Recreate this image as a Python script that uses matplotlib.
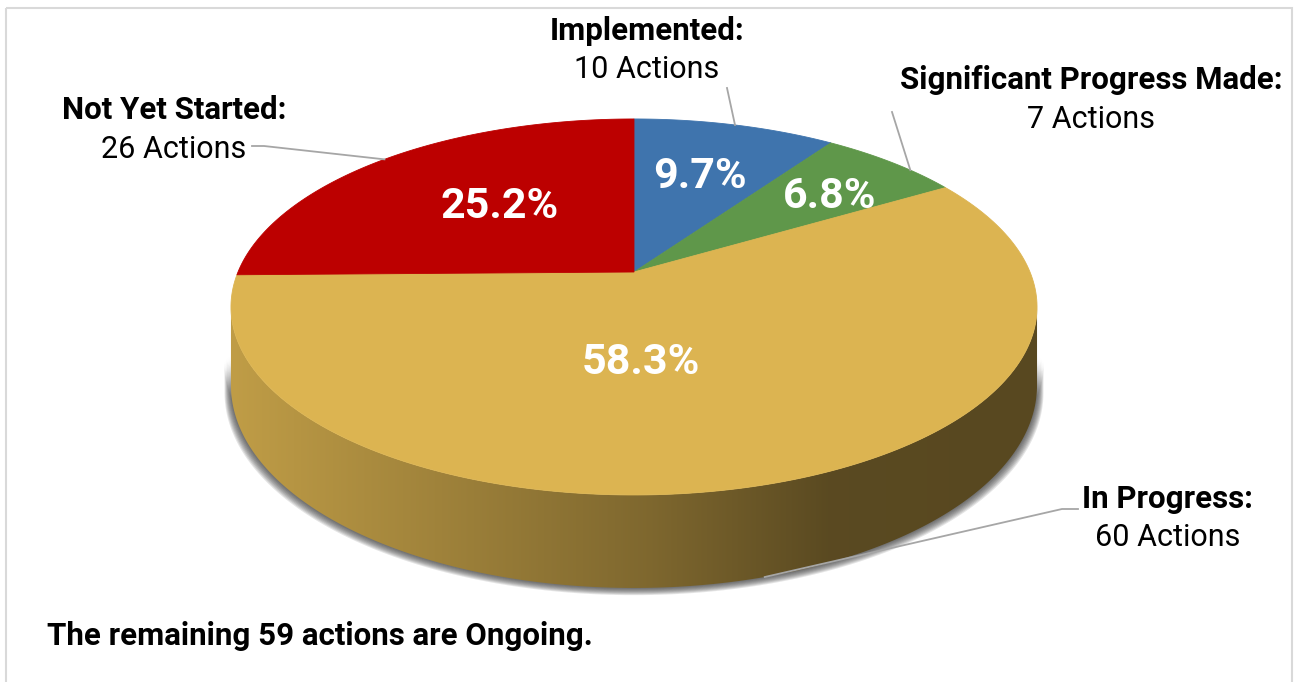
import numpy as np
import matplotlib
matplotlib.use("Agg")
import matplotlib.pyplot as plt
from matplotlib.patches import Polygon, Rectangle

# --- data ---
categories = ["Implemented", "Significant Progress Made", "In Progress", "Not Yet Started"]
actions = [10, 7, 60, 26]
colors = ["#3F74AD", "#5F974A", "#DCB451", "#BC0000"]
note = "The remaining 59 actions are Ongoing."

# --- layout (pixel coords) ---
CX, CY = 634, 272          # where the slices meet
R, B = 396, 181.5          # horizontal radius / vertical scale
C = 0.186                  # perspective strength
T0 = 75.7                  # wall thickness
name_pos = [(647, 31), (1091, 80), (1168, 499), (174, 110)]
pct_pos = [(700, 177), (830, 197), (641, 362), (500, 207)]
leader_start = [[(727, 88)], [(892, 112)], [(1078, 509), (1062, 509)], [(252, 146), (264, 146)]]

plt.rcParams['font.family'] = ['Roboto', 'DejaVu Sans']


def proj(theta, r=1.0, drop=0.0):
    th = np.radians(theta)
    u = r * np.sin(th)
    v = -r * np.cos(th)
    d = 1 - C * v
    return CX + R * u / d, CY + B * v / d + drop / d


fig = plt.figure(figsize=(12.99, 6.82), dpi=100)
ax = fig.add_axes([0, 0, 1, 1])
ax.set_xlim(0, 1299)
ax.set_ylim(682, 0)
ax.axis('off')

ax.add_patch(Rectangle((6, 8), 1286, 700, fill=False, edgecolor="#D9D9D9", lw=1.5))

total = sum(actions)
fracs = np.array(actions) / total
bounds = np.concatenate([[0], np.cumsum(fracs) * 360])

# visible part of the side wall
th_r = np.degrees(np.arccos(-C))
th_l = 360 - th_r

# soft shadow round the wall: faint, slightly grown copies of its outline
ts = np.linspace(th_r, th_l, 240)
bx, by = proj(ts, drop=T0)
tx, ty = proj(ts[::-1], drop=45)
sx = np.concatenate([bx, tx])
sy = np.concatenate([by, ty])
for k in range(1, 9):
    gx_ = CX + (sx - CX) * (1 + k / 500)
    ax.add_patch(Polygon(np.column_stack([gx_, sy + 0.9 * k]), closed=True,
                         facecolor=(0.2, 0.2, 0.2, 0.13), edgecolor='none', zorder=1))

# side wall with left-to-right shading
gx = np.linspace(220, 1050, 400)
shade = np.interp(gx, [233, 650, 830, 1050], [0.87, 0.575, 0.41, 0.40])
for i in range(len(actions)):
    a0, a1 = max(bounds[i], th_r), min(bounds[i + 1], th_l)
    if a1 <= a0:
        continue
    t = np.linspace(a0, a1, 200)
    x1, y1 = proj(t)
    x2, y2 = proj(t[::-1], drop=T0)
    poly = Polygon(np.column_stack([np.concatenate([x1, x2]), np.concatenate([y1, y2])]),
                   closed=True, facecolor='none', edgecolor='none', transform=ax.transData)
    ax.add_patch(poly)
    base = np.array(matplotlib.colors.to_rgb(colors[i]))
    img = (shade[:, None] * base[None, :])[None, :, :]
    im = ax.imshow(img, extent=[220, 1050, 640, 200], aspect='auto', zorder=2,
                   interpolation='bilinear')
    im.set_clip_path(poly)

# top face
for i in range(len(actions)):
    t = np.linspace(bounds[i], bounds[i + 1], 200)
    x, y = proj(t)
    pts = np.column_stack([np.concatenate([[CX], x]), np.concatenate([[CY], y])])
    ax.add_patch(Polygon(pts, closed=True, facecolor=colors[i], edgecolor=colors[i],
                         lw=0.6, zorder=3))

ax.set_xlim(0, 1299)
ax.set_ylim(682, 0)

# labels
for i, name in enumerate(categories):
    mid = (bounds[i] + bounds[i + 1]) / 2
    px, py = pct_pos[i]
    ax.text(px, py, f"{fracs[i] * 100:.1f}%", ha='center', va='center', color='white',
            fontsize=31, fontweight='bold', zorder=5)
    nx, ny = name_pos[i]
    ax.text(nx, ny, f"{name}:", ha='center', va='center', fontsize=22.5,
            fontweight='bold', color='black', zorder=5)
    ax.text(nx, ny + 39, f"{actions[i]} Actions", ha='center', va='center', fontsize=22,
            color='black', zorder=5)
    # leader line to the rim (front slices point at the bottom edge)
    front = -np.cos(np.radians(mid)) > 0.3
    ex, ey = proj(mid + (4 if i == 1 else 0), drop=T0 if front else 0.0)
    pts = leader_start[i] + [(ex, ey)]
    ax.plot([p[0] for p in pts], [p[1] for p in pts], color="#A6A6A6", lw=1.3, zorder=4)

ax.text(47, 636, note, ha='left', va='center', fontsize=22.5, fontweight='bold', color='black')

fig.savefig("out.png", dpi=100)
